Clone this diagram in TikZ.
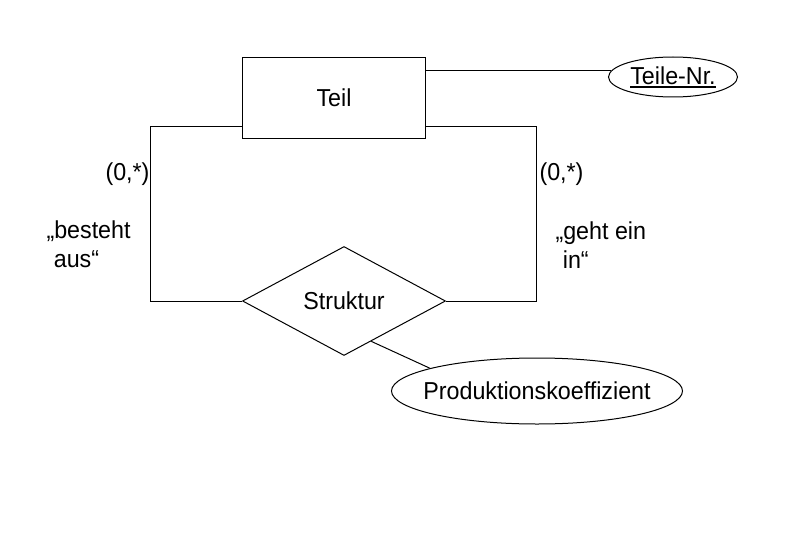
\documentclass[tikz,border=0pt]{standalone}
\usepackage{fontspec}
\setmainfont{Liberation Sans}[FakeStretch=0.95]
\usetikzlibrary{shapes.geometric}
\newcommand{\keyattr}[1]{\setbox0\hbox{#1}\rlap{\rule[-3.5pt]{\wd0}{1.8pt}}\box0}
\begin{document}
\begin{tikzpicture}[x=1pt,y=-1pt,line width=1pt,
  every node/.style={font=\fontsize{24.5}{29}\selectfont, inner sep=0pt},
  entity/.style={draw, rectangle, minimum width=183pt, minimum height=81pt},
  relation/.style={draw, diamond, aspect=2, minimum width=203pt, minimum height=109pt},
  attribute/.style={draw, ellipse},
  lbl/.style={align=left, anchor=base west}]
\useasboundingbox (0,0) rectangle (794,559);
\node[entity] (Teil) at (334,98) {Teil};
\node[attribute, minimum width=129pt, minimum height=40pt, inner xsep=-2pt] (TeileNr) at (673,77) {\keyattr{Teile-Nr.}};
\node[relation] (Struktur) at (344,301) {Struktur};
\node[attribute, minimum width=291pt, minimum height=66pt, inner xsep=-14pt] (Prod) at (537,391) {Produktionskoeffizient};
\draw ([yshift=-13.5pt]Teil.north east) coordinate (a) -- (a -| TeileNr.174);
\draw ([yshift=13pt]Teil.south west) -| ([xshift=-92pt]Struktur.west) -- (Struktur.west);
\draw ([yshift=13pt]Teil.south east) -| ([xshift=90pt]Struktur.east) -- (Struktur.east);
\draw (Struktur.304) -- (Prod.168);
\node[lbl] (cl) at (105,180) {(0,*)};
\node[lbl] (cr) at (539,180) {(0,*)};
\node[lbl] (ll) at (46,267.5) {„besteht\\\hspace*{0.3em}aus“};
\node[lbl] (lr) at (555,268) {„geht ein\\\hspace*{0.3em}in“};
\end{tikzpicture}
\end{document}
